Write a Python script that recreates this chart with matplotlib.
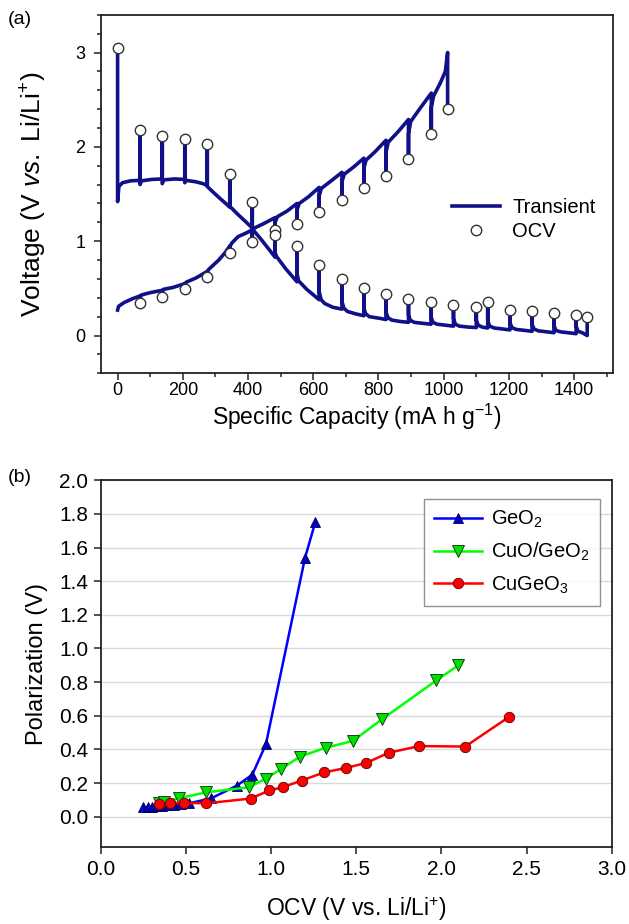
import numpy as np
import matplotlib
matplotlib.use("Agg")
import matplotlib.pyplot as plt
from matplotlib.ticker import MultipleLocator, FormatStrFormatter

plt.rcParams['font.family'] = ['Liberation Sans', 'DejaVu Sans']
plt.rcParams['mathtext.fontset'] = 'custom'
plt.rcParams['mathtext.rm'] = 'Liberation Sans'
plt.rcParams['mathtext.it'] = 'Liberation Sans:italic'
plt.rcParams['mathtext.default'] = 'regular'

# ---- panel (a): transient curves (vertices)
dis_x = [0, 0, 4, 15, 40, 69,
         69, 69, 73, 105, 137,
         137, 137, 141, 175, 206,
         206, 206, 210, 240, 262, 275,
         275, 275, 290, 315, 335, 344,
         344, 344, 370, 395, 413,
         413, 413, 440, 465, 483,
         483, 483, 487, 515, 550,
         550, 550, 555, 580, 618,
         618, 618, 624, 635, 660, 688,
         688, 688, 694, 705, 730, 755,
         755, 755, 761, 772, 800, 823,
         823, 823, 829, 840, 865, 892,
         892, 892, 898, 910, 935, 961,
         961, 961, 967, 980, 1005, 1030,
         1030, 1030, 1036, 1048, 1075, 1100,
         1100, 1100, 1106, 1118, 1135,
         1135, 1135, 1141, 1155, 1180, 1203,
         1203, 1203, 1209, 1222, 1248, 1271,
         1271, 1271, 1277, 1290, 1315, 1338,
         1338, 1338, 1344, 1357, 1382, 1406,
         1406, 1406, 1412, 1425, 1440, 1440]
dis_y = [3.05, 1.42, 1.58, 1.62, 1.64, 1.645,
         2.18, 1.60, 1.64, 1.655, 1.66,
         2.11, 1.61, 1.65, 1.66, 1.655,
         2.07, 1.62, 1.645, 1.63, 1.61, 1.59,
         2.03, 1.58, 1.53, 1.45, 1.39, 1.36,
         1.71, 1.37, 1.28, 1.20, 1.14,
         1.42, 1.13, 1.02, 0.91, 0.83,
         1.12, 0.88, 0.84, 0.71, 0.57,
         0.95, 0.66, 0.58, 0.49, 0.38,
         0.75, 0.47, 0.38, 0.34, 0.30, 0.28,
         0.60, 0.36, 0.29, 0.255, 0.23, 0.21,
         0.50, 0.29, 0.23, 0.20, 0.185, 0.17,
         0.44, 0.25, 0.19, 0.165, 0.15, 0.14,
         0.39, 0.22, 0.16, 0.14, 0.13, 0.12,
         0.356, 0.20, 0.14, 0.12, 0.11, 0.10,
         0.327, 0.18, 0.12, 0.10, 0.09, 0.085,
         0.30, 0.16, 0.11, 0.09, 0.08,
         0.352, 0.16, 0.10, 0.08, 0.07, 0.06,
         0.275, 0.14, 0.085, 0.065, 0.055, 0.045,
         0.257, 0.12, 0.07, 0.05, 0.04, 0.03,
         0.24, 0.11, 0.055, 0.04, 0.03, 0.02,
         0.215, 0.10, 0.045, 0.03, 0.0, 0.16]

chg_x = [0, 3, 20, 45, 69,
         69, 69, 73, 100, 137,
         137, 137, 141, 170, 206,
         206, 206, 210, 240, 275,
         275, 275, 279, 310, 330, 344,
         344, 344, 350, 370, 390, 413,
         413, 413, 420, 450, 483,
         483, 483, 490, 520, 550,
         550, 550, 557, 585, 618,
         618, 618, 625, 655, 688,
         688, 688, 695, 725, 755,
         755, 755, 762, 790, 823,
         823, 823, 830, 860, 892,
         892, 892, 899, 930, 962,
         962, 962, 969, 990, 1005, 1012,
         1012]
chg_y = [0.27, 0.31, 0.35, 0.39, 0.42,
         0.34, 0.40, 0.43, 0.455, 0.48,
         0.41, 0.46, 0.49, 0.51, 0.55,
         0.49, 0.54, 0.565, 0.61, 0.68,
         0.62, 0.67, 0.70, 0.80, 0.88, 0.95,
         0.88, 0.94, 0.98, 1.05, 1.08, 1.12,
         0.99, 1.10, 1.14, 1.19, 1.25,
         1.07, 1.20, 1.26, 1.32, 1.40,
         1.18, 1.33, 1.40, 1.47, 1.57,
         1.31, 1.48, 1.56, 1.64, 1.73,
         1.44, 1.63, 1.71, 1.79, 1.88,
         1.56, 1.77, 1.86, 1.95, 2.07,
         1.69, 1.94, 2.05, 2.16, 2.29,
         1.87, 2.14, 2.27, 2.42, 2.57,
         2.14, 2.42, 2.54, 2.68, 2.80, 3.0,
         2.40]

ocv_dis_x = [0, 69, 137, 206, 275, 344, 413, 483, 550, 619, 688, 755, 823,
             892, 961, 1030, 1100, 1135, 1203, 1271, 1338, 1406, 1440]
ocv_dis_y = [3.05, 2.18, 2.11, 2.08, 2.03, 1.71, 1.42, 1.12, 0.95, 0.75, 0.60,
             0.50, 0.44, 0.39, 0.356, 0.327, 0.30, 0.352, 0.275, 0.257, 0.24,
             0.215, 0.194]
ocv_chg_x = [69, 137, 206, 275, 344, 413, 483, 550, 618, 688, 755, 823, 892,
             962, 1012]
ocv_chg_y = [0.34, 0.41, 0.49, 0.62, 0.88, 0.99, 1.07, 1.18, 1.31, 1.44, 1.56,
             1.69, 1.87, 2.14, 2.40]

# ---- panel (b): polarization vs OCV
geo2_x = [0.25, 0.28, 0.30, 0.33, 0.36, 0.39, 0.43, 0.47, 0.52, 0.65, 0.80,
          0.89, 0.97, 1.20, 1.26]
geo2_y = [0.055, 0.057, 0.060, 0.062, 0.065, 0.068, 0.071, 0.075, 0.08, 0.11,
          0.185, 0.25, 0.43, 1.54, 1.75]
cuo_x = [0.34, 0.37, 0.46, 0.62, 0.87, 0.97, 1.06, 1.17, 1.32, 1.48, 1.65,
         1.97, 2.10]
cuo_y = [0.08, 0.09, 0.11, 0.145, 0.175, 0.226, 0.285, 0.357, 0.41, 0.45,
         0.578, 0.81, 0.90]
cugeo3_x = [0.34, 0.41, 0.49, 0.62, 0.88, 0.99, 1.07, 1.18, 1.31, 1.44, 1.56,
            1.69, 1.87, 2.14, 2.40]
cugeo3_y = [0.077, 0.082, 0.082, 0.08, 0.108, 0.156, 0.176, 0.215, 0.263,
            0.29, 0.32, 0.38, 0.42, 0.417, 0.595]

navy = '#101088'


def style_axes(ax, tick_fs):
    for sp in ax.spines.values():
        sp.set_linewidth(1.3)
        sp.set_color('#222222')
    ax.tick_params(which='both', direction='out', top=False, right=False,
                   labelsize=tick_fs, color='#222222', width=1.1)
    ax.tick_params(which='major', length=5, pad=4)
    ax.tick_params(which='minor', length=3)


fig = plt.figure(figsize=(6.29, 9.24), dpi=100)

ax1 = fig.add_axes([0.160, 0.596, 0.815, 0.388])
ax1.plot(dis_x, dis_y, color=navy, lw=2.6, label='Transient', zorder=2)
ax1.plot(chg_x, chg_y, color=navy, lw=2.6, zorder=2)
ax1.plot(ocv_dis_x, ocv_dis_y, 'o', mfc='white', mec='#333333', ms=7.5,
         mew=1.0, label='OCV', zorder=3)
ax1.plot(ocv_chg_x, ocv_chg_y, 'o', mfc='white', mec='#333333', ms=7.5,
         mew=1.0, zorder=3)
ax1.set_xlim(-52, 1520)
ax1.set_ylim(-0.4, 3.4)
ax1.xaxis.set_major_locator(MultipleLocator(200))
ax1.xaxis.set_minor_locator(MultipleLocator(100))
ax1.yaxis.set_major_locator(MultipleLocator(1))
ax1.yaxis.set_minor_locator(MultipleLocator(0.2))
style_axes(ax1, 13)
ax1.tick_params(axis='x', which='major', pad=1.5)
ax1.tick_params(axis='y', which='major', pad=6)
ax1.set_xlabel('Specific Capacity (mA h g$^{-1}$)', fontsize=16.5, labelpad=2)
ax1.set_ylabel(r'Voltage (V $\it{vs.}$ Li/Li$^{+}$)', fontsize=19, labelpad=19)
ax1.legend(loc='center left', bbox_to_anchor=(0.65, 0.43), frameon=False,
           fontsize=14.5, handlelength=2.4, handletextpad=0.6, labelspacing=0.25)

ax2 = fig.add_axes([0.160, 0.0833, 0.8125, 0.397])
ax2.yaxis.grid(True, color='#dadada', lw=1.0)
ax2.set_axisbelow(True)
ax2.plot(geo2_x, geo2_y, '-^', color='#0000ff', mfc='#0000cc', mec='#000044',
         ms=7.5, mew=0.6, lw=1.8, label='GeO$_2$')
ax2.plot(cuo_x, cuo_y, '-v', color='#00ff00', mfc='#00e000', mec='#003300',
         ms=8, mew=0.6, lw=1.8, label='CuO/GeO$_2$')
ax2.plot(cugeo3_x, cugeo3_y, '-o', color='#ff0000', mfc='#ff0000', mec='#550000',
         ms=7.5, mew=0.6, lw=1.8, label='CuGeO$_3$')
ax2.set_xlim(0, 3.0)
ax2.set_ylim(-0.18, 2.0)
ax2.xaxis.set_major_locator(MultipleLocator(0.5))
ax2.yaxis.set_major_locator(MultipleLocator(0.2))
ax2.xaxis.set_major_formatter(FormatStrFormatter('%.1f'))
ax2.yaxis.set_major_formatter(FormatStrFormatter('%.1f'))
style_axes(ax2, 15)
ax2.set_xlabel('OCV (V vs. Li/Li$^{+}$)', fontsize=16.5, labelpad=12)
ax2.set_ylabel('Polarization (V)', fontsize=17, labelpad=8)
leg = ax2.legend(loc='upper right', bbox_to_anchor=(0.977, 0.95),
                 borderaxespad=0, fontsize=14.5, fancybox=False,
                 edgecolor='#777777', handlelength=2.4, handletextpad=0.45,
                 labelspacing=0.55, borderpad=0.5)
leg.get_frame().set_linewidth(1.0)

fig.text(0.012, 0.988, '(a)', fontsize=14, va='top')
fig.text(0.012, 0.492, '(b)', fontsize=14, va='top')

fig.savefig('out.png', dpi=100)
